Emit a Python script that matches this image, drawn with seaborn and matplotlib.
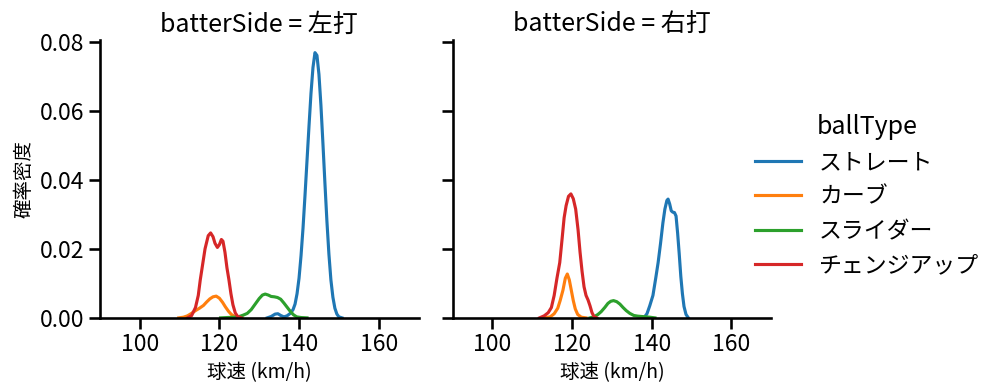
import numpy as np
import pandas as pd
from matplotlib import pyplot as plt
import seaborn as sns

# density curves (km/h, density)
sides = ["左打", "右打"]
ball_types = ["ストレート", "カーブ", "スライダー", "チェンジアップ"]

# batterSide = 左打
left_straight_speed = [132.0, 133.0, 134.0, 134.7, 135.4, 136.2, 137.0, 137.8, 138.5, 139.0, 139.5, 140.0,
                       140.5, 141.0, 141.5, 142.0, 142.5, 143.0, 143.5, 144.0, 144.5, 145.0, 145.5, 146.0,
                       146.5, 147.0, 147.5, 148.0, 148.5, 149.0, 149.5, 150.0, 150.8]
left_straight_density = [0.0, 0.0004, 0.0011, 0.0012, 0.0007, 0.0003, 0.0006, 0.0013, 0.0024, 0.0040, 0.0070, 0.0115,
                         0.0180, 0.0260, 0.0355, 0.0455, 0.0555, 0.0650, 0.0725, 0.0768, 0.0760, 0.0705, 0.0615, 0.0505,
                         0.0390, 0.0280, 0.0185, 0.0110, 0.0060, 0.0028, 0.0011, 0.0003, 0.0]

left_curve_speed = [109.8, 111.0, 112.0, 113.0, 114.0, 115.0, 116.0, 116.8, 117.6, 118.4, 119.2, 120.0,
                    120.8, 121.5, 122.3, 123.0, 123.8, 124.6, 125.7]
left_curve_density = [0.0, 0.0002, 0.0006, 0.0013, 0.0021, 0.0028, 0.0036, 0.0046, 0.0055, 0.0061, 0.0063, 0.0057,
                      0.0045, 0.0032, 0.0019, 0.0010, 0.0004, 0.0001, 0.0]

left_slider_speed = [120.3, 122.0, 124.0, 125.0, 126.0, 127.0, 128.0, 129.0, 130.0, 130.8, 131.5, 132.3,
                     133.0, 133.8, 134.6, 135.4, 136.2, 137.0, 137.8, 138.6, 139.4, 140.5, 142.0]
left_slider_density = [0.0, 0.0001, 0.0002, 0.0004, 0.0008, 0.0013, 0.0024, 0.0040, 0.0056, 0.0066, 0.0069, 0.0066,
                       0.0062, 0.0061, 0.0059, 0.0054, 0.0043, 0.0031, 0.0019, 0.0009, 0.0003, 0.0001, 0.0]

left_change_speed = [112.0, 113.0, 114.0, 114.7, 115.2, 115.8, 116.4, 117.2, 117.8, 118.4, 118.9, 119.5,
                     120.0, 120.5, 120.9, 121.4, 121.9, 122.4, 122.9, 123.4, 124.0, 124.6, 125.5]
left_change_density = [0.0, 0.0006, 0.0030, 0.0065, 0.0110, 0.0155, 0.0200, 0.0238, 0.0246, 0.0235, 0.0216, 0.0204,
                       0.0212, 0.0227, 0.0222, 0.0190, 0.0145, 0.0110, 0.0070, 0.0038, 0.0014, 0.0004, 0.0]

# batterSide = 右打
right_straight_speed = [138.0, 138.8, 139.5, 140.3, 141.0, 141.6, 142.2, 142.8, 143.3, 143.8, 144.1, 144.5,
                        144.9, 145.3, 145.7, 146.1, 146.5, 146.9, 147.3, 147.7, 148.1, 148.6, 149.2]
right_straight_density = [0.0, 0.0012, 0.0035, 0.0065, 0.0115, 0.0160, 0.0215, 0.0275, 0.0315, 0.0340, 0.0344, 0.0330,
                          0.0310, 0.0306, 0.0305, 0.0295, 0.0245, 0.0185, 0.0120, 0.0070, 0.0033, 0.0010, 0.0]

right_curve_speed = [113.0, 114.5, 115.5, 116.4, 117.0, 117.7, 118.3, 118.8, 119.3, 119.8, 120.3, 120.8,
                     121.4, 122.3, 123.5]
right_curve_density = [0.0, 0.0003, 0.0012, 0.0028, 0.0050, 0.0080, 0.0115, 0.0127, 0.0110, 0.0080, 0.0050, 0.0026,
                       0.0010, 0.0002, 0.0]

right_slider_speed = [124.5, 125.5, 126.5, 127.3, 128.2, 129.0, 129.7, 130.4, 131.2, 132.0, 132.8, 133.6,
                      134.5, 135.5, 136.5, 137.5, 138.5, 139.5, 140.8]
right_slider_density = [0.0, 0.0003, 0.0010, 0.0018, 0.0030, 0.0042, 0.0048, 0.0050, 0.0047, 0.0040, 0.0030, 0.0021,
                        0.0013, 0.0007, 0.0005, 0.0004, 0.0003, 0.0002, 0.0]

right_change_speed = [111.8, 113.0, 114.0, 114.8, 115.5, 116.2, 116.9, 117.5, 118.0, 118.5, 119.1, 119.7,
                      120.3, 120.9, 121.5, 122.0, 122.5, 123.0, 123.5, 124.0, 124.5, 125.0, 125.5, 126.2]
right_change_density = [0.0, 0.0006, 0.0015, 0.0030, 0.0065, 0.0115, 0.0160, 0.0230, 0.0290, 0.0325, 0.0352, 0.0359,
                        0.0345, 0.0315, 0.0255, 0.0190, 0.0135, 0.0090, 0.0065, 0.0052, 0.0035, 0.0015, 0.0004, 0.0]

curves = {
    ("左打", "ストレート"): (left_straight_speed, left_straight_density),
    ("左打", "カーブ"): (left_curve_speed, left_curve_density),
    ("左打", "スライダー"): (left_slider_speed, left_slider_density),
    ("左打", "チェンジアップ"): (left_change_speed, left_change_density),
    ("右打", "ストレート"): (right_straight_speed, right_straight_density),
    ("右打", "カーブ"): (right_curve_speed, right_curve_density),
    ("右打", "スライダー"): (right_slider_speed, right_slider_density),
    ("右打", "チェンジアップ"): (right_change_speed, right_change_density),
}

frames = []
for (side, bt), (sp, dens) in curves.items():
    frames.append(pd.DataFrame({"batterSide": side, "ballType": bt, "speed": sp, "density": dens}))
df = pd.concat(frames, ignore_index=True)

sns.set_context("talk")
plt.rcParams['font.family'] = ['Noto Sans CJK JP', 'DejaVu Sans']

g = sns.relplot(data=df, x="speed", y="density", hue="ballType", col="batterSide",
                kind="line", hue_order=ball_types, col_order=sides, palette="tab10",
                errorbar=None, sort=True, height=4, aspect=1)
g.set(xlim=(90, 170), ylim=(0, 0.0805))
g.set(xticks=[100, 120, 140, 160], yticks=[0, 0.02, 0.04, 0.06, 0.08])
g.set_axis_labels("球速 (km/h)", "確率密度", fontsize=14)
g.set_titles("batterSide = {col_name}")
g.axes[0, 0].yaxis.set_major_formatter(plt.FormatStrFormatter('%.2f'))
g.tick_params(length=8, pad=3)

g.figure.set_size_inches(9.99, 3.91)
g.figure.subplots_adjust(left=0.100, right=0.772, bottom=0.187, top=0.898, wspace=0.107)
sns.move_legend(g, "center left", bbox_to_anchor=(0.735, 0.5), frameon=False)

plt.savefig("out.png", dpi=100)
